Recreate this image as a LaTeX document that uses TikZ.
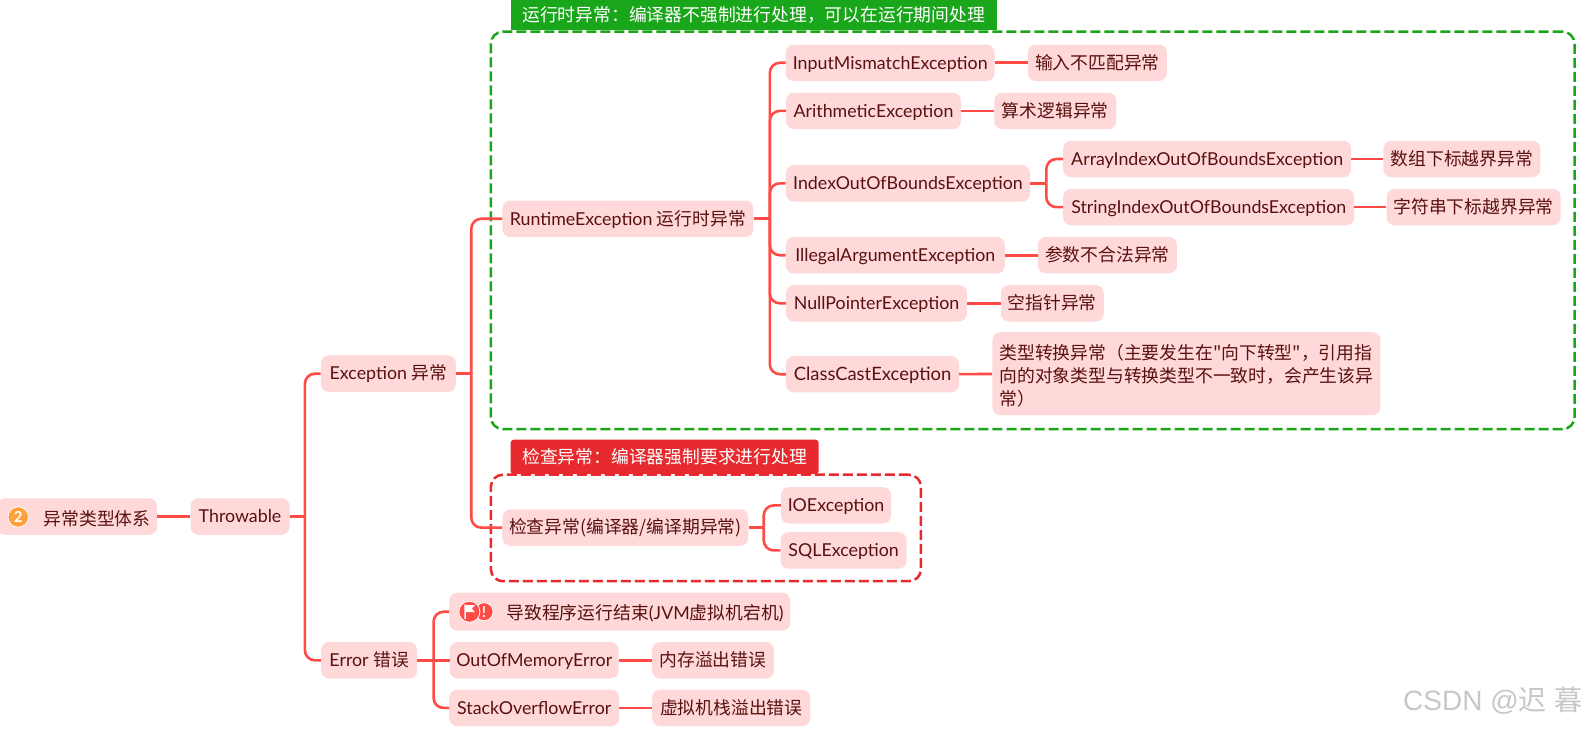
\documentclass[tikz,border=0pt]{standalone}
\usepackage{fontspec}
\usepackage{xcolor}
\usetikzlibrary{positioning, calc}
\setmainfont{Lato}
\newfontfamily\cjk{Noto Sans CJK SC}
\newfontfamily\markfont{Liberation Sans}
\definecolor{topicfill}{RGB}{255, 217, 217}
\definecolor{topictext}{RGB}{90, 16, 16}
\definecolor{linkred}{RGB}{255, 74, 69}
\definecolor{boxgreen}{RGB}{26, 166, 26}
\definecolor{boxred}{RGB}{230, 42, 46}
\definecolor{badgeorange}{RGB}{255, 160, 60}

\begin{document}
\begin{tikzpicture}[
    x=1.0127pt, y=-1.0127pt,
    topic/.style={fill=topicfill, text=topictext, rounded corners=8pt, minimum height=36.5pt, inner sep=0pt, text height=14pt, text depth=1.5pt, font=\fontsize{17.8}{24}\selectfont},
    plaintext/.style={text=topictext, inner sep=0pt, font=\fontsize{17.8}{24}\selectfont},
    link/.style={draw=linkred, line width=2.6pt, rounded corners=10pt},
    groupbox/.style={draw, line width=2.5pt, dash pattern=on 10pt off 4pt, rounded corners=12pt},
    grouptag/.style={text=white, inner sep=0pt, minimum height=30pt, text height=14pt, text depth=1.5pt, font=\cjk\fontsize{17.8}{24}\selectfont},
    badge/.style={circle, draw=white, line width=0.8pt, inner sep=0pt, minimum size=20.5pt, text=white, font=\bfseries\fontsize{15}{15}\selectfont}
]
    \useasboundingbox (0,0) rectangle (1568,720);

    % Runtime group
    \node[grouptag, fill=boxgreen, minimum width=486pt, anchor=north west] (runtimetag) at (504,0) {运行时异常：编译器不强制进行处理，可以在运行期间处理};
    \node[groupbox, draw=boxgreen, minimum width=1083.5pt, minimum height=397.5pt, anchor=north west] (runtimebox) at (483.5,30) {};

    % Checked group
    \node[grouptag, fill=boxred, minimum width=308pt, minimum height=34.5pt, rounded corners=3pt, anchor=north west] (checkedtag) at (504,434) {检查异常：编译器强制要求进行处理};
    \node[groupbox, draw=boxred, minimum width=430pt, minimum height=106.5pt, anchor=north west] (checkedbox) at (483.5,467.5) {};

    % Main branch
    \node[topic, minimum width=160pt, anchor=west] (root) at (-3,510) {};
    \node[topic, minimum width=99pt] (throwable) at (237,510) {Throwable};
    \node[topic, minimum width=135pt] (exception) at (383.5,369) {Exception {\cjk 异常}};
    \node[topic, minimum width=96pt] (error) at (364.5,652) {Error {\cjk 错误}};
    \coordinate (rootin) at (0,510);

    \node[badge, fill=badgeorange] (rootbadge) at (18,510.5) {2};
    \node[plaintext, font=\cjk\fontsize{17.8}{24}\selectfont, anchor=west] (roottext) at (43,512) {异常类型体系};

    % Runtime exceptions
    \node[topic, minimum width=251pt] (runtime) at (620,216) {RuntimeException {\cjk 运行时异常}};
    \node[topic, minimum width=209pt] (mismatch) at (879,62) {InputMismatchException};
    \node[topic, minimum width=139pt] (mismatchcn) at (1083.5,62) {\cjk 输入不匹配异常};
    \node[topic, minimum width=175pt] (arith) at (862.5,109.5) {ArithmeticException};
    \node[topic, minimum width=122pt] (arithcn) at (1042,109.5) {\cjk 算术逻辑异常};
    \node[topic, minimum width=244pt] (index) at (896.5,181) {IndexOutOfBoundsException};
    \node[topic, minimum width=288pt] (arrayidx) at (1192,157) {ArrayIndexOutOfBoundsException};
    \node[topic, minimum width=157pt] (arrayidxcn) at (1443.5,157) {\cjk 数组下标越界异常};
    \node[topic, minimum width=291pt] (stridx) at (1193.5,204.5) {StringIndexOutOfBoundsException};
    \node[topic, minimum width=174pt] (stridxcn) at (1455,204.5) {\cjk 字符串下标越界异常};
    \node[topic, minimum width=219pt] (illegal) at (884,252) {IllegalArgumentException};
    \node[topic, minimum width=139pt] (illegalcn) at (1093.5,252) {\cjk 参数不合法异常};
    \node[topic, minimum width=181pt] (nullptr) at (865.5,299.5) {NullPointerException};
    \node[topic, minimum width=103pt] (nullptrcn) at (1039,299.5) {\cjk 空指针异常};
    \node[topic, minimum width=173pt] (cast) at (861.5,369.5) {\fontsize{18.4}{24}\selectfont ClassCastException};
    \node[topic, minimum width=388pt, minimum height=83pt] (castcn) at (1171.5,369) {};
    \node[plaintext, align=left, font=\cjk\fontsize{17.8}{23.2}\selectfont] (casttext) at (1171.5,371) {\makebox[374pt][l]{类型转换异常（主要发生在"向下转型"，引用指}\\向的对象类型与转换类型不一致时，会产生该异\\常）};

    % Checked exceptions
    \node[topic, minimum width=246pt] (checked) at (617.5,521) {\cjk 检查异常(编译器/编译期异常)};
    \node[topic, minimum width=110pt] (ioex) at (825.5,499) {IOException};
    \node[topic, minimum width=126pt] (sqlex) at (833,543.5) {SQLException};

    % Errors
    \node[topic, minimum width=341pt, minimum height=38pt] (fatal) at (612,604) {};
    \node[plaintext, anchor=west] (fataltext) at (500,606) {{\cjk 导致程序运行结束}(JVM{\cjk 虚拟机宕机})};
    \node[badge, fill=linkred, minimum size=18pt] (fatalmark) at (478,604) {!};
    \node[badge, fill=linkred, minimum size=21pt] (fatalflag) at (463.5,604) {};
    \fill[white] (458.5,597) rectangle (460,611) (460,597.5) -- (469,597.5) -- (466,601) -- (469,604.5) -- (460,604.5) -- cycle;
    \node[topic, minimum width=169pt] (oom) at (527.5,652) {OutOfMemoryError};
    \node[topic, minimum width=122pt] (oomcn) at (704,652) {\cjk 内存溢出错误};
    \node[topic, minimum width=170pt] (overflow) at (527.5,699) {StackOverflowError};
    \node[topic, minimum width=158pt] (overflowcn) at (722,699) {\cjk 虚拟机栈溢出错误};

    % Forks
    \coordinate (throwfork) at ($(throwable.east)+(15,0)$);
    \coordinate (excfork) at ($(exception.east)+(15,0)$);
    \coordinate (runfork) at ($(runtime.east)+(16,0)$);
    \coordinate (indexfork) at ($(index.east)+(16,0)$);
    \coordinate (chkfork) at ($(checked.east)+(15,0)$);
    \coordinate (errfork) at ($(error.east)+(16,0)$);

    % Connectors
    \draw[link] (rootin) -- (root.west);
    \draw[link] (root.east) -- (throwable.west);
    \draw[link] (throwable.east) -- (throwfork);
    \draw[link] (throwfork) |- (exception.west);
    \draw[link] (throwfork) |- (error.west);
    \draw[link] (exception.east) -- (excfork);
    \draw[link] (excfork) |- (runtime.west);
    \draw[link] (excfork) |- (checked.west);
    \draw[link] (runtime.east) -- (runfork);
    \draw[link] (runfork) |- (mismatch.west);
    \draw[link] (runfork) |- (arith.west);
    \draw[link] (runfork) |- (index.west);
    \draw[link] (runfork) |- (illegal.west);
    \draw[link] (runfork) |- (nullptr.west);
    \draw[link] (runfork) |- (cast.west);
    \draw[link] (mismatch) -- (mismatchcn);
    \draw[link] (arith) -- (arithcn);
    \draw[link] (index.east) -- (indexfork);
    \draw[link] (indexfork) |- (arrayidx.west);
    \draw[link] (indexfork) |- (stridx.west);
    \draw[link] (arrayidx) -- (arrayidxcn);
    \draw[link] (stridx) -- (stridxcn);
    \draw[link] (illegal) -- (illegalcn);
    \draw[link] (nullptr) -- (nullptrcn);
    \draw[link] (cast) -- (castcn);
    \draw[link] (checked.east) -- (chkfork);
    \draw[link] (chkfork) |- (ioex.west);
    \draw[link] (chkfork) |- (sqlex.west);
    \draw[link] (error.east) -- (errfork);
    \draw[link] (errfork) |- (fatal.west);
    \draw[link] (errfork) -- (oom.west);
    \draw[link] (errfork) |- (overflow.west);
    \draw[link] (oom) -- (oomcn);
    \draw[link] (overflow) -- (overflowcn);

    % Watermark
    \node[text=black!22, inner sep=0pt, font=\markfont\fontsize{28}{28}\selectfont, anchor=east] (mark) at (1563,692) {CSDN @{\cjk 迟\hspace{8pt}暮}};
\end{tikzpicture}
\end{document}
